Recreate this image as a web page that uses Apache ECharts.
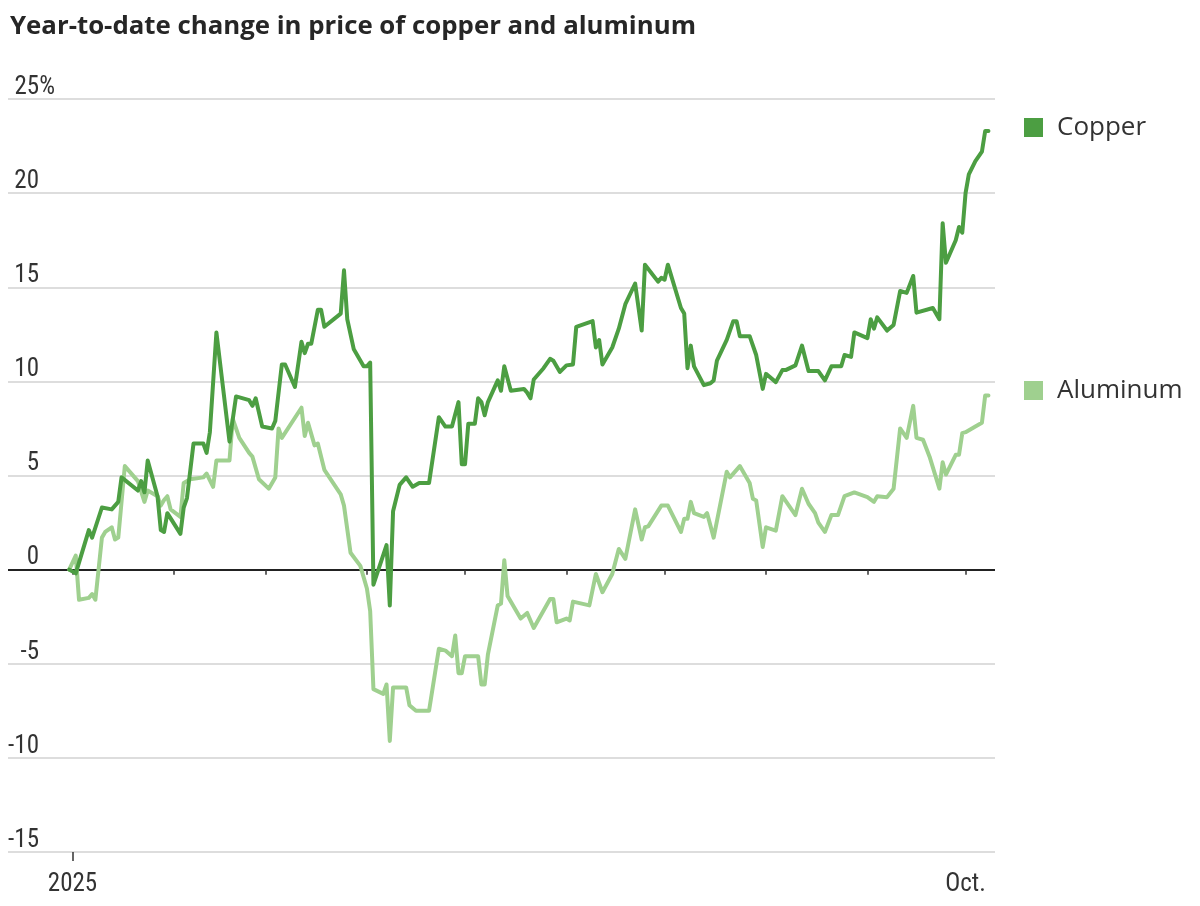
<!DOCTYPE html>
<html>
<head>
    <meta charset="utf-8">
    <title>Copper and aluminum</title>
    <script src="https://cdn.jsdelivr.net/npm/echarts@6/dist/echarts.min.js"></script>
    <style>
        html, body {
            width: 100%;
            height: 100%;
            margin: 0;
            background: #ffffff;
        }
        #main {
            width: 1200px;
            height: 906px;
        }
    </style>
</head>
<body>
    <div id="main"></div>
    <script type="text/javascript">

        var copperDates = [
            '2024-12-31', '2025-01-02', '2025-01-06', '2025-01-07', '2025-01-10', '2025-01-13', '2025-01-15', '2025-01-16',
            '2025-01-21', '2025-01-22', '2025-01-23', '2025-01-24', '2025-01-27', '2025-01-28', '2025-01-29', '2025-01-30',
            '2025-02-03', '2025-02-04', '2025-02-05', '2025-02-07', '2025-02-10', '2025-02-11', '2025-02-12', '2025-02-14',
            '2025-02-18', '2025-02-20', '2025-02-24', '2025-02-25', '2025-02-26', '2025-02-28', '2025-03-03', '2025-03-04',
            '2025-03-06', '2025-03-07', '2025-03-10', '2025-03-12', '2025-03-13', '2025-03-14', '2025-03-15', '2025-03-17',
            '2025-03-18', '2025-03-19', '2025-03-24', '2025-03-25', '2025-03-26', '2025-03-28', '2025-03-31', '2025-04-01',
            '2025-04-02', '2025-04-03', '2025-04-07', '2025-04-08', '2025-04-09', '2025-04-11', '2025-04-13', '2025-04-15',
            '2025-04-17', '2025-04-20', '2025-04-23', '2025-04-25', '2025-04-27', '2025-04-29', '2025-04-30', '2025-05-01',
            '2025-05-02', '2025-05-04', '2025-05-05', '2025-05-06', '2025-05-07', '2025-05-08', '2025-05-11', '2025-05-12',
            '2025-05-13', '2025-05-15', '2025-05-19', '2025-05-20', '2025-05-21', '2025-05-22', '2025-05-25', '2025-05-27',
            '2025-05-28', '2025-05-30', '2025-06-01', '2025-06-03', '2025-06-04', '2025-06-09', '2025-06-10', '2025-06-11',
            '2025-06-12', '2025-06-15', '2025-06-17', '2025-06-19', '2025-06-22', '2025-06-24', '2025-06-25', '2025-06-29',
            '2025-06-30', '2025-07-01', '2025-07-02', '2025-07-06', '2025-07-07', '2025-07-08', '2025-07-09', '2025-07-10',
            '2025-07-13', '2025-07-15', '2025-07-16', '2025-07-17', '2025-07-20', '2025-07-22', '2025-07-23', '2025-07-24',
            '2025-07-27', '2025-07-29', '2025-07-31', '2025-08-01', '2025-08-04', '2025-08-06', '2025-08-07', '2025-08-10',
            '2025-08-12', '2025-08-14', '2025-08-17', '2025-08-19', '2025-08-21', '2025-08-24', '2025-08-25', '2025-08-27',
            '2025-08-28', '2025-09-01', '2025-09-02', '2025-09-03', '2025-09-04', '2025-09-07', '2025-09-09', '2025-09-11',
            '2025-09-13', '2025-09-15', '2025-09-16', '2025-09-21', '2025-09-23', '2025-09-24', '2025-09-25', '2025-09-28',
            '2025-09-29', '2025-09-30', '2025-10-01', '2025-10-02', '2025-10-04', '2025-10-06', '2025-10-07', '2025-10-08'
        ];
        var copperValues = [
            0, -0.2, 2.1, 1.7, 3.3, 3.2, 3.6, 4.9,
            4.2, 4.7, 4.1, 5.8, 3.9, 2.1, 2.0, 3.0,
            1.9, 3.3, 3.8, 6.7, 6.7, 6.2, 7.3, 12.6,
            6.8, 9.2, 9.0, 8.7, 9.1, 7.6, 7.5, 7.9,
            10.9, 10.9, 9.7, 12.1, 11.5, 12.0, 12.0, 13.8,
            13.8, 12.9, 13.6, 15.9, 13.3, 11.7, 10.8, 10.8,
            11.0, -0.8, 1.3, -1.9, 3.1, 4.5, 4.9, 4.4,
            4.6, 4.6, 8.1, 7.6, 7.6, 8.9, 5.6, 5.6,
            7.75, 7.75, 9.1, 8.9, 8.2, 8.9, 10.05, 9.5,
            10.8, 9.5, 9.6, 9.4, 9.1, 10.1, 10.7, 11.2,
            11.1, 10.5, 10.85, 10.9, 12.9, 13.2, 11.8, 12.2,
            10.9, 11.8, 12.8, 14.1, 15.2, 12.7, 16.2, 15.3,
            15.5, 15.4, 16.2, 13.9, 13.6, 10.7, 11.9, 10.8,
            9.8, 9.9, 10.05, 11.1, 12.2, 13.2, 13.2, 12.4,
            12.4, 11.4, 9.6, 10.4, 9.96, 10.6, 10.6, 10.85,
            11.9, 10.55, 10.55, 10.05, 10.8, 10.8, 11.4, 11.3,
            12.6, 12.3, 13.3, 12.8, 13.4, 12.7, 13.0, 14.8,
            14.7, 15.6, 13.65, 13.9, 13.3, 18.4, 16.3, 17.5,
            18.2, 17.9, 20.0, 21.0, 21.7, 22.2, 23.3, 23.3
        ];

        var aluminumDates = [
            '2024-12-31', '2025-01-02', '2025-01-03', '2025-01-06', '2025-01-07', '2025-01-08', '2025-01-10', '2025-01-11',
            '2025-01-13', '2025-01-14', '2025-01-15', '2025-01-17', '2025-01-21', '2025-01-23', '2025-01-24', '2025-01-27',
            '2025-01-28', '2025-01-29', '2025-01-30', '2025-01-31', '2025-02-03', '2025-02-04', '2025-02-06', '2025-02-10',
            '2025-02-11', '2025-02-13', '2025-02-14', '2025-02-18', '2025-02-19', '2025-02-21', '2025-02-24', '2025-02-25',
            '2025-02-27', '2025-03-02', '2025-03-04', '2025-03-05', '2025-03-06', '2025-03-12', '2025-03-13', '2025-03-14',
            '2025-03-16', '2025-03-17', '2025-03-19', '2025-03-24', '2025-03-25', '2025-03-27', '2025-03-30', '2025-04-01',
            '2025-04-02', '2025-04-03', '2025-04-06', '2025-04-07', '2025-04-08', '2025-04-09', '2025-04-13', '2025-04-14',
            '2025-04-16', '2025-04-20', '2025-04-23', '2025-04-25', '2025-04-27', '2025-04-28', '2025-04-29', '2025-04-30',
            '2025-05-01', '2025-05-05', '2025-05-06', '2025-05-07', '2025-05-08', '2025-05-11', '2025-05-12', '2025-05-13',
            '2025-05-14', '2025-05-18', '2025-05-20', '2025-05-22', '2025-05-27', '2025-05-28', '2025-05-29', '2025-06-01',
            '2025-06-02', '2025-06-03', '2025-06-08', '2025-06-10', '2025-06-12', '2025-06-15', '2025-06-17', '2025-06-19',
            '2025-06-22', '2025-06-24', '2025-06-25', '2025-06-26', '2025-06-30', '2025-07-02', '2025-07-06', '2025-07-07',
            '2025-07-08', '2025-07-09', '2025-07-10', '2025-07-13', '2025-07-14', '2025-07-16', '2025-07-20', '2025-07-21',
            '2025-07-24', '2025-07-27', '2025-07-28', '2025-07-29', '2025-07-31', '2025-08-01', '2025-08-04', '2025-08-06',
            '2025-08-10', '2025-08-12', '2025-08-14', '2025-08-16', '2025-08-17', '2025-08-19', '2025-08-21', '2025-08-23',
            '2025-08-25', '2025-08-28', '2025-09-01', '2025-09-03', '2025-09-04', '2025-09-07', '2025-09-09', '2025-09-11',
            '2025-09-13', '2025-09-15', '2025-09-16', '2025-09-18', '2025-09-20', '2025-09-23', '2025-09-24', '2025-09-25',
            '2025-09-28', '2025-09-29', '2025-09-30', '2025-10-01', '2025-10-04', '2025-10-06', '2025-10-07', '2025-10-08'
        ];
        var aluminumValues = [
            0, 0.75, -1.6, -1.5, -1.3, -1.6, 1.7, 2.0,
            2.25, 1.6, 1.7, 5.5, 4.7, 3.6, 4.2, 3.9,
            3.4, 3.7, 3.9, 3.2, 2.8, 4.6, 4.8, 4.9,
            5.1, 4.4, 5.8, 5.8, 8.0, 7.0, 6.2, 6.0,
            4.8, 4.3, 4.9, 7.5, 7.0, 8.6, 7.1, 7.8,
            6.6, 6.7, 5.3, 4.0, 3.4, 0.9, 0.2, -1.0,
            -2.2, -6.35, -6.6, -6.1, -9.1, -6.26, -6.26, -7.2,
            -7.5, -7.5, -4.2, -4.3, -4.6, -3.5, -5.5, -5.5,
            -4.6, -4.6, -6.1, -6.1, -4.5, -1.9, -1.8, 0.5,
            -1.4, -2.6, -2.3, -3.1, -1.56, -1.56, -2.8, -2.6,
            -2.7, -1.7, -1.9, -0.23, -1.2, -0.23, 1.1, 0.57,
            3.2, 1.6, 2.25, 2.3, 3.4, 3.4, 2.0, 2.7,
            2.7, 3.6, 3.0, 2.8, 3.0, 1.7, 5.2, 4.9,
            5.5, 4.6, 3.76, 3.67, 1.2, 2.25, 2.07, 3.9,
            2.9, 4.3, 3.5, 3.0, 2.5, 2.0, 2.9, 2.9,
            3.9, 4.1, 3.85, 3.6, 3.9, 3.85, 4.3, 7.5,
            7.0, 8.7, 7.0, 6.9, 6.0, 4.3, 5.7, 5.05,
            6.1, 6.1, 7.25, 7.3, 7.6, 7.8, 9.25, 9.25
        ];

        var monthTicks = ['2025-01-01', '2025-02-01', '2025-03-01', '2025-04-01', '2025-05-01',
            '2025-06-01', '2025-07-01', '2025-08-01', '2025-09-01', '2025-10-01'];
        var labelTicks = ['2025-01-01', '2025-10-01'];
        var labelTexts = ['2025', 'Oct.'];

        var copperColor = '#4c9e42';
        var aluminumColor = '#9fd08f';
        var numFont = '"Liberation Sans Narrow", "Roboto Condensed", "DejaVu Sans Condensed", "Liberation Sans", sans-serif';
        var textFont = '"Open Sans", "Noto Sans", sans-serif';

        function ts(s) {
            return new Date(s + 'T00:00:00').getTime();
        }
        function pairs(dates, values) {
            return dates.map(function (d, i) { return [ts(d), values[i]]; });
        }

        var xMin = ts('2024-12-12') + 7 * 3600 * 1000;
        var xMax = ts('2025-10-10');
        var labelStamps = labelTicks.map(ts);

        var myChart = echarts.init(document.getElementById('main'));

        var option = {
            backgroundColor: '#ffffff',
            animation: false,
            title: {
                text: 'Year-to-date change in price of copper and aluminum',
                left: 5,
                top: 9,
                textStyle: {
                    fontFamily: textFont,
                    fontWeight: 'bold',
                    fontSize: 25.8,
                    color: '#262626'
                }
            },
            legend: [{
                data: ['Copper'],
                left: 1024,
                top: 114,
                icon: 'rect',
                itemWidth: 19,
                itemHeight: 19,
                padding: 0,
                textStyle: { fontFamily: textFont, fontSize: 26, color: '#333', padding: [0, 0, 0, 9], lineHeight: 27 }
            }, {
                data: ['Aluminum'],
                left: 1024,
                top: 377,
                icon: 'rect',
                itemWidth: 19,
                itemHeight: 19,
                padding: 0,
                textStyle: { fontFamily: textFont, fontSize: 26, color: '#333', padding: [0, 0, 0, 9], lineHeight: 27 }
            }],
            grid: {
                left: 8,
                right: 205,
                top: 99,
                bottom: 54,
                containLabel: false
            },
            xAxis: [{
                type: 'value',
                min: xMin,
                max: xMax,
                axisLine: { show: false },
                splitLine: { show: false },
                axisTick: {
                    show: true,
                    length: 5,
                    customValues: monthTicks.map(ts),
                    lineStyle: { color: '#333', width: 1.5 }
                },
                axisLabel: {
                    show: true,
                    customValues: labelStamps,
                    margin: 20,
                    fontFamily: numFont,
                    fontSize: 25,
                    color: '#333',
                    formatter: function (value) {
                        var i = labelStamps.indexOf(value);
                        return i >= 0 ? labelTexts[i] : '';
                    }
                }
            }, {
                type: 'value',
                min: xMin,
                max: xMax,
                position: 'bottom',
                axisLine: { show: false },
                splitLine: { show: false },
                axisLabel: { show: false },
                axisTick: {
                    show: true,
                    length: 9,
                    customValues: [labelStamps[0]],
                    lineStyle: { color: '#333', width: 1.5 }
                }
            }],
            yAxis: {
                type: 'value',
                min: -15,
                max: 25,
                interval: 5,
                axisLine: { show: false },
                axisTick: { show: false },
                splitLine: {
                    show: true,
                    lineStyle: {
                        color: ['#dddddd', '#dddddd', '#dddddd', '#222222', '#dddddd', '#dddddd', '#dddddd', '#dddddd', '#dddddd'],
                        width: 2
                    }
                },
                axisLabel: {
                    inside: true,
                    margin: 47,
                    align: 'right',
                    verticalAlign: 'bottom',
                    padding: 0,
                    lineHeight: 23,
                    fontFamily: numFont,
                    fontSize: 25,
                    color: '#333',
                    formatter: function (v) {
                        return v === 25 ? '25%' : v + '{s|}';
                    },
                    rich: {
                        s: {
                            width: 16,
                            lineHeight: 23
                        }
                    }
                }
            },
            series: [{
                name: 'Aluminum',
                type: 'line',
                data: pairs(aluminumDates, aluminumValues),
                showSymbol: false,
                color: aluminumColor,
                lineStyle: { width: 4, color: aluminumColor, join: 'round', cap: 'round' },
                z: 2
            }, {
                name: 'Copper',
                type: 'line',
                data: pairs(copperDates, copperValues),
                showSymbol: false,
                color: copperColor,
                lineStyle: { width: 4, color: copperColor, join: 'round', cap: 'round' },
                z: 3
            }]
        };

        myChart.setOption(option);
    </script>
</body>
</html>
